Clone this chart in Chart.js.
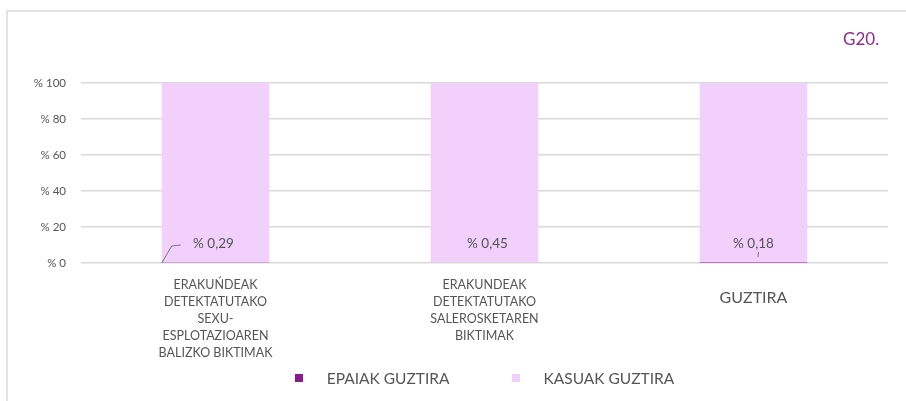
<!DOCTYPE html>
<html>
<head>
<meta charset="utf-8">
<script src="https://cdn.jsdelivr.net/npm/chart.js"></script>
<style>
html, body { margin: 0; padding: 0; background: #fff; }
#wrap { position: relative; width: 906px; height: 401px; overflow: hidden; }
#frame { position: absolute; left: 6px; top: 10px; right: -4px; bottom: -4px;
  border-top: 2px solid #e3e3e3; border-left: 2px solid #e3e3e3; }
#title { position: absolute; left: 843px; top: 28px; font: 17px Lato, sans-serif; color: #8e2a90; }
#legend { position: absolute; left: 81px; width: 807px; top: 369px; display: flex;
  justify-content: center; font: 15.5px Lato, sans-serif; color: #555; }
#legend .item { display: flex; align-items: center; margin: 0 31px; }
#legend .box { width: 8px; height: 8px; margin-right: 24px; }
canvas { position: absolute; left: 0; top: 0; }
</style>
</head>
<body>
<div id="wrap">
  <div id="frame"></div>
  <canvas id="myChart" width="906" height="401"></canvas>
  <div id="title">G20.</div>
  <div id="legend"></div>
</div>
<script>
// categories
var categories = [
  ['ERAKUŃDEAK', 'DETEKTATUTAKO', 'SEXU-', 'ESPLOTAZIOAREN', 'BALIZKO BIKTIMAK'],
  ['ERAKUNDEAK', 'DETEKTATUTAKO', 'SALEROSKETAREN', 'BIKTIMAK'],
  ['', 'GUZTIRA']
];
// series (percent)
var epaiak = [0.29, 0.45, 0.18];
var kasuak = [99.71, 99.55, 99.82];
var seriesNames = ['EPAIAK GUZTIRA', 'KASUAK GUZTIRA'];
var seriesColors = ['#8b1a8e', '#f2d0fc'];
var yTicks = [0, 20, 40, 60, 80, 100];

// legend (html)
var leg = document.getElementById('legend');
seriesNames.forEach(function (n, i) {
  var it = document.createElement('div');
  it.className = 'item';
  it.innerHTML = '<span class="box" style="background:' + seriesColors[i] + '"></span><span>' + n + '</span>';
  leg.appendChild(it);
});

var labelPlugin = {
  id: 'pctLabels',
  afterDatasetsDraw: function (chart) {
    var ctx = chart.ctx;
    var meta = chart.getDatasetMeta(0);
    var y0 = chart.scales.y.getPixelForValue(0);
    ctx.save();
    ctx.font = '13.5px Lato, sans-serif';
    ctx.fillStyle = '#555';
    ctx.textAlign = 'center';
    ctx.textBaseline = 'middle';
    ctx.strokeStyle = '#777';
    ctx.lineWidth = 1;
    meta.data.forEach(function (bar, i) {
      var txt = '% ' + epaiak[i].toString().replace('.', ',');
      var x = bar.x;
      if (i === 0) {
        x = bar.x - 2;
        var left = bar.x - bar.width / 2;
        ctx.beginPath();
        ctx.moveTo(left, y0);
        ctx.lineTo(left + 10, y0 - 17);
        ctx.lineTo(left + 19, y0 - 18);
        ctx.stroke();
      }
      if (i === 1) x = bar.x + 3;
      if (i === 2) {
        ctx.beginPath();
        ctx.moveTo(bar.x + 5, y0 - 11);
        ctx.lineTo(bar.x + 4.5, y0 - 6);
        ctx.stroke();
      }
      ctx.fillText(txt, x, y0 - 19);
    });
    ctx.restore();
  }
};

var ctx = document.getElementById('myChart').getContext('2d');
var chart = new Chart(ctx, {
  type: 'bar',
  data: {
    labels: categories,
    datasets: [{
      label: seriesNames[0],
      data: epaiak,
      backgroundColor: seriesColors[0],
      barPercentage: 0.4,
      categoryPercentage: 1
    }, {
      label: seriesNames[1],
      data: kasuak,
      backgroundColor: seriesColors[1],
      barPercentage: 0.4,
      categoryPercentage: 1
    }]
  },
  options: {
    responsive: false,
    animation: false,
    layout: { padding: { top: 83, right: 18, left: 0, bottom: 0 } },
    plugins: { legend: { display: false }, tooltip: { enabled: false } },
    scales: {
      x: {
        stacked: true,
        grid: { display: false, drawTicks: false },
        border: { display: false },
        afterFit: function (s) { s.height = 138; },
        ticks: {
          padding: 13,
          maxRotation: 0,
          autoSkip: false,
          color: '#555',
          font: function (c) {
            return c.index === 2
              ? { family: 'Lato, sans-serif', size: 16, lineHeight: 0.9 }
              : { family: 'Lato, sans-serif', size: 12.5, lineHeight: 1.36 };
          }
        }
      },
      y: {
        stacked: true,
        min: 0,
        max: 100,
        afterFit: function (s) { s.width = 81; },
        afterBuildTicks: function (s) { s.ticks = yTicks.map(function (v) { return { value: v }; }); },
        grid: { color: '#d9d9d9', lineWidth: 1.5, drawTicks: false },
        border: { display: false },
        ticks: {
          padding: 15,
          color: '#555',
          font: { family: 'Lato, sans-serif', size: 11.5 },
          callback: function (v) { return '% ' + v; }
        }
      }
    }
  },
  plugins: [labelPlugin]
});
</script>
</body>
</html>
